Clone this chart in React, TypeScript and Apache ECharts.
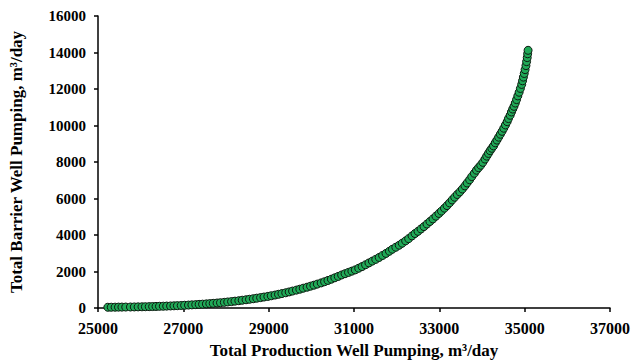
import React, { useEffect, useRef } from "react";
import * as echarts from "echarts";

const xValues: number[] = [
  25230, 25310, 25400, 25480, 25560, 25650, 25760, 25850, 25940, 26030, 26110, 26200, 26280, 26360, 26440, 26530,
  26610, 26700, 26780, 26860, 26950, 27030, 27120, 27200, 27290, 27370, 27450, 27540, 27620, 27700, 27790,
  27870, 27960, 28040, 28130, 28210, 28300, 28380, 28470, 28550, 28640, 28720, 28810, 28890, 28980, 29060,
  29150, 29230, 29310, 29400, 29480, 29560, 29650, 29730, 29810, 29900, 29980, 30060, 30140, 30230, 30310,
  30390, 30470, 30550, 30630, 30710, 30790, 30870, 30950, 31030, 31110, 31190, 31270, 31350, 31430, 31510,
  31590, 31670, 31750, 31830, 31900, 31980, 32060, 32130, 32210, 32280, 32360, 32430, 32500, 32570, 32640,
  32710, 32780, 32850, 32920, 32990, 33050, 33120, 33180, 33240, 33300, 33360, 33420, 33480, 33540, 33600,
  33650, 33710, 33760, 33820, 33870, 33920, 33970, 34020, 34070, 34110, 34150, 34190, 34230, 34270, 34310,
  34350, 34390, 34430, 34470, 34510, 34550, 34590, 34620, 34660, 34690, 34720, 34750, 34780, 34810, 34840,
  34870, 34900, 34930, 34950, 34970, 34990, 35010, 35030, 35045, 35060, 35070, 35080,
];

const yValues: number[] = [
  40, 42, 45, 48, 50, 52, 55, 58, 62, 66, 70, 75, 80, 86, 92, 98,
  105, 112, 120, 128, 138, 150, 160, 172, 185, 198, 210, 225, 240, 255, 272,
  290, 310, 330, 352, 375, 400, 425, 452, 478, 508, 538, 570, 600, 635, 670,
  710, 750, 790, 835, 880, 928, 980, 1030, 1085, 1140, 1195, 1250, 1310, 1375, 1440,
  1510, 1580, 1655, 1730, 1810, 1880, 1950, 2020, 2090, 2180, 2270, 2370, 2470, 2570, 2665,
  2770, 2880, 2990, 3110, 3220, 3330, 3440, 3550, 3680, 3800, 3950, 4080, 4200, 4330, 4460,
  4600, 4740, 4880, 5030, 5180, 5310, 5470, 5610, 5760, 5920, 6070, 6220, 6360, 6520, 6690,
  6850, 7030, 7200, 7380, 7550, 7690, 7820, 7980, 8160, 8320, 8470, 8620, 8750, 8880, 9050,
  9200, 9360, 9520, 9680, 9850, 10030, 10210, 10380, 10560, 10740, 10900, 11050, 11230, 11420, 11620,
  11820, 12030, 12250, 12450, 12650, 12850, 13060, 13280, 13500, 13720, 13930, 14120,
];

const xAxisTitle = "Total Production Well Pumping, m³/day";
const yAxisTitle = "Total Barrier Well Pumping, m³/day";

const FONT = "'Liberation Serif', 'Times New Roman', serif";

export default function App() {
  const ref = useRef<HTMLDivElement>(null);
  useEffect(() => {
    if (!ref.current) return;
    const chart = echarts.init(ref.current, undefined, { renderer: "svg" });
    const data = xValues.map((x, i) => [x, yValues[i]]);
    const plain = (v: number) => String(v);
    chart.setOption({
      animation: false,
      grid: { left: 90, right: 22, top: 16, bottom: 53, containLabel: false },
      xAxis: {
        type: "value",
        min: 25000,
        max: 37000,
        interval: 2000,
        name: xAxisTitle,
        nameLocation: "middle",
        nameGap: 34,
        nameTextStyle: { color: "#000", fontFamily: FONT, fontWeight: "bold", fontSize: 17 },
        axisLine: { show: true, lineStyle: { color: "#000", width: 1.5 } },
        axisTick: { show: true, inside: false, length: 4, lineStyle: { color: "#000", width: 1.5 } },
        axisLabel: { color: "#000", fontFamily: FONT, fontWeight: "bold", fontSize: 16, margin: 12, formatter: plain },
        splitLine: { show: false },
      },
      yAxis: {
        type: "value",
        min: 0,
        max: 16000,
        interval: 2000,
        name: yAxisTitle,
        nameLocation: "middle",
        nameGap: 73,
        nameTextStyle: { color: "#000", fontFamily: FONT, fontWeight: "bold", fontSize: 17 },
        axisLine: { show: true, lineStyle: { color: "#000", width: 1.5 } },
        axisTick: { show: true, inside: false, length: 4, lineStyle: { color: "#000", width: 1.5 } },
        axisLabel: { color: "#000", fontFamily: FONT, fontWeight: "bold", fontSize: 15, margin: 12, formatter: plain },
        splitLine: { show: false },
      },
      series: [
        {
          type: "scatter",
          data,
          symbol: "circle",
          symbolSize: 8,
          itemStyle: { color: "#20a957", borderColor: "#0d1a10", borderWidth: 1, opacity: 1 },
        },
      ],
    });
    return () => chart.dispose();
  }, []);
  return <div ref={ref} style={{ width: 633, height: 364, position: "absolute", left: 0, top: 0, background: "#fff" }} />;
}
